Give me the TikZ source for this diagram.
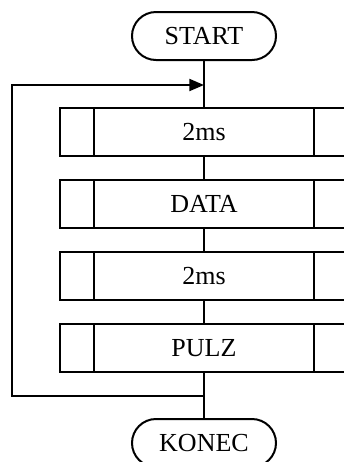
\documentclass[tikz,border=0pt]{standalone}
\usepackage{fontspec}
\setmainfont{Liberation Serif}
\usetikzlibrary{arrows.meta}
\begin{document}
\begin{tikzpicture}[x=0.75pt,y=-0.75pt,
  line width=1.5pt,
  every node/.style={font=\fontsize{19.5}{23}\selectfont},
  term/.style={draw, rounded corners=18pt, minimum width=108pt, minimum height=36pt, inner sep=0pt},
  subproc/.style={draw, minimum width=216pt, minimum height=36pt, inner sep=0pt},
  flow/.style={line width=1.5pt}]
\useasboundingbox (0,0) rectangle (344,462);
\clip (0,0) rectangle (344,462);
\node[term] (start) at (204,36) {START};
\node[subproc] (b1) at (204,132) {2ms};
\node[subproc] (b2) at (204,204) {DATA};
\node[subproc] (b3) at (204,276) {2ms};
\node[subproc] (b4) at (204,348) {PULZ};
\node[term] (konec) at (204,443) {KONEC};
\foreach \b in {b1,b2,b3,b4}{
  \draw ([xshift=26.25pt]\b.north west) -- ([xshift=26.25pt]\b.south west);
  \draw ([xshift=-26.25pt]\b.north east) -- ([xshift=-26.25pt]\b.south east);
}
\draw[flow] (start) -- (b1);
\draw[flow] (b1) -- (b2);
\draw[flow] (b2) -- (b3);
\draw[flow] (b3) -- (b4);
\draw[flow] (b4) -- (konec);
\coordinate (lb) at (204,396);
\coordinate (la) at (204,85);
\coordinate (c1) at (12,396);
\coordinate (c2) at (12,85);
\draw[flow,-{Triangle[length=11pt,width=9pt]}] (lb) -- (c1) -- (c2) -- (la);
\end{tikzpicture}
\end{document}
